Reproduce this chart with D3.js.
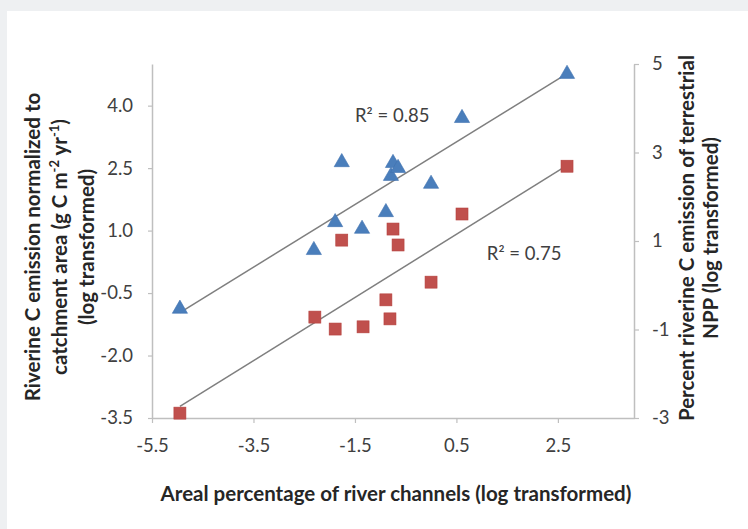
<!DOCTYPE html>
<html>
<head>
<meta charset="utf-8">
<script src="https://cdn.jsdelivr.net/npm/d3@7"></script>
<style>
  html, body { margin:0; padding:0; background:#eef0f2; }
  svg { display:block; }
  text { font-family: Lato, "Open Sans", sans-serif; fill:#404040; }
</style>
</head>
<body>
<div id="chart"></div>
<script>
// x values shared by both series (areal percentage of river channels, log)
var xVals = [-4.95, -2.31, -1.89, -1.76, -1.36, -0.89, -0.79, -0.75, -0.65, 0.0, 0.61, 2.68];
// left axis series: riverine C emission per catchment area (triangles)
var emission = [-0.88, 0.53, 1.20, 2.64, 1.04, 1.44, 2.31, 2.62, 2.50, 2.12, 3.70, 4.76];
// right axis series: percent riverine C emission of NPP (squares)
var nppXVals = [-4.95, -2.29, -1.89, -1.76, -1.34, -0.89, -0.81, -0.75, -0.65, 0.0, 0.61, 2.68];
var nppPct = [-2.89, -0.72, -0.99, 1.02, -0.94, -0.33, -0.76, 1.27, 0.91, 0.07, 1.61, 2.69];

var xTicks = [-5.5, -3.5, -1.5, 0.5, 2.5];
var leftTicks = [-3.5, -2.0, -0.5, 1.0, 2.5, 4.0];
var rightTicks = [-3, -1, 1, 3, 5];
var r2Labels = ["R² = 0.85", "R² = 0.75"];

var W = 748, H = 529;
var margin = {left:152, right:114, top:64, bottom:111};
var tickFont = '18.5px', titleFont = '20.5px';

var svg = d3.select('#chart').append('svg')
  .attr('width', W).attr('height', H);

svg.append('rect')
  .attr('x', 7).attr('y', 11)
  .attr('width', W-7).attr('height', H-11)
  .attr('fill', '#fff');

var x = d3.scaleLinear().domain([-5.5, 4.0]).range([margin.left, W-margin.right]);
var yL = d3.scaleLinear().domain([-3.5, 5.0]).range([H-margin.bottom, margin.top]);
var yR = d3.scaleLinear().domain([-3, 5]).range([H-margin.bottom, margin.top]);

// plain hyphen minus like the original
var fmt1 = function(d){ return d.toFixed(1); };
var fmt0 = function(d){ return d.toFixed(0); };

function styleAxis(g){
  g.selectAll('path.domain').attr('stroke', '#bfbfbf').attr('stroke-width', 1.5);
  g.selectAll('.tick line').attr('stroke', '#bfbfbf').attr('stroke-width', 1.2);
  g.selectAll('.tick text').attr('fill', '#404040')
    .style('font-family', 'Lato, "Open Sans", sans-serif')
    .style('font-size', tickFont);
}

var xAxis = svg.append('g')
  .attr('transform', 'translate(0,' + (H-margin.bottom) + ')')
  .call(d3.axisBottom(x).tickValues(xTicks).tickFormat(fmt1).tickSizeInner(5).tickSizeOuter(0).tickPadding(16));
styleAxis(xAxis);

var leftAxis = svg.append('g')
  .attr('transform', 'translate(' + margin.left + ',0)')
  .call(d3.axisLeft(yL).tickValues(leftTicks).tickFormat(fmt1).tickSizeInner(4).tickSizeOuter(0).tickPadding(15));
styleAxis(leftAxis);

var rightAxis = svg.append('g')
  .attr('transform', 'translate(' + (W-margin.right) + ',0)')
  .call(d3.axisRight(yR).tickValues(rightTicks).tickFormat(fmt0).tickSizeInner(5).tickSizeOuter(0).tickPadding(13));
styleAxis(rightAxis);

// least squares trend line
function fit(xs, ys){
  var mx = d3.mean(xs), my = d3.mean(ys);
  var sxy = d3.sum(xs, function(v,i){ return (v-mx)*(ys[i]-my); });
  var sxx = d3.sum(xs, function(v){ return (v-mx)*(v-mx); });
  var b = sxy/sxx;
  return {b:b, a:my-b*mx, x0:d3.min(xs), x1:d3.max(xs)};
}

var fitL = fit(xVals, emission);
var fitR = fit(nppXVals, nppPct);

[[fitL, yL], [fitR, yR]].forEach(function(p){
  var f = p[0], sc = p[1];
  svg.append('line')
    .attr('x1', x(f.x0)).attr('y1', sc(f.a + f.b*f.x0))
    .attr('x2', x(f.x1)).attr('y2', sc(f.a + f.b*f.x1))
    .attr('stroke', '#7f7f7f').attr('stroke-width', 1.5);
});

var tri = d3.symbol().type(d3.symbolTriangle).size(100);
svg.selectAll('path.tri')
  .data(xVals)
  .enter().append('path')
  .attr('class', 'tri')
  .attr('d', tri)
  .attr('fill', '#4a7ebb')
  .attr('stroke', '#3f72b0').attr('stroke-width', 0.6)
  .attr('transform', function(d,i){ return 'translate(' + x(d) + ',' + yL(emission[i]) + ')'; });

var sq = 12;
svg.selectAll('rect.sq')
  .data(nppXVals)
  .enter().append('rect')
  .attr('class', 'sq')
  .attr('x', function(d){ return x(d) - sq/2; })
  .attr('y', function(d,i){ return yR(nppPct[i]) - sq/2; })
  .attr('width', sq).attr('height', sq)
  .attr('fill', '#c0504d')
  .attr('stroke', '#b5403d').attr('stroke-width', 0.6);

// R² labels near the trend lines
svg.append('text')
  .attr('x', x(-1.5)).attr('y', yL(3.6))
  .style('font-size', tickFont)
  .text(r2Labels[0]);
svg.append('text')
  .attr('x', x(1.1)).attr('y', yR(0.58))
  .style('font-size', tickFont)
  .text(r2Labels[1]);

// axis titles
svg.append('text')
  .attr('x', (margin.left + W - margin.right)/2 + 3)
  .attr('y', 501)
  .attr('text-anchor', 'middle')
  .style('font-size', titleFont).style('font-weight', 'bold').style('fill', '#262626')
  .text('Areal percentage of river channels (log transformed)');

var lt = svg.append('text')
  .attr('transform', 'translate(40,247) rotate(-90)')
  .attr('text-anchor', 'middle')
  .style('font-size', titleFont).style('font-weight', 'bold').style('fill', '#262626');
lt.append('tspan').attr('x', 0).attr('dy', 0).text('Riverine C emission normalized to');
var l2 = lt.append('tspan').attr('x', 0).attr('dy', 27);
l2.append('tspan').text('catchment area (g C m');
l2.append('tspan').attr('dy', -8).style('font-size', '13px').text('-2');
l2.append('tspan').attr('dy', 8).text(' yr');
l2.append('tspan').attr('dy', -8).style('font-size', '13px').text('-1');
l2.append('tspan').attr('dy', 8).text(')');
lt.append('tspan').attr('x', 0).attr('dy', 27).text('(log transformed)');

var rt = svg.append('text')
  .attr('transform', 'translate(694,238) rotate(-90)')
  .attr('text-anchor', 'middle')
  .style('font-size', titleFont).style('font-weight', 'bold').style('fill', '#262626');
rt.append('tspan').attr('x', 0).attr('dy', 0).text('Percent riverine C emission of terrestrial');
rt.append('tspan').attr('x', 0).attr('dy', 24).text('NPP (log transformed)');
</script>
</body>
</html>
